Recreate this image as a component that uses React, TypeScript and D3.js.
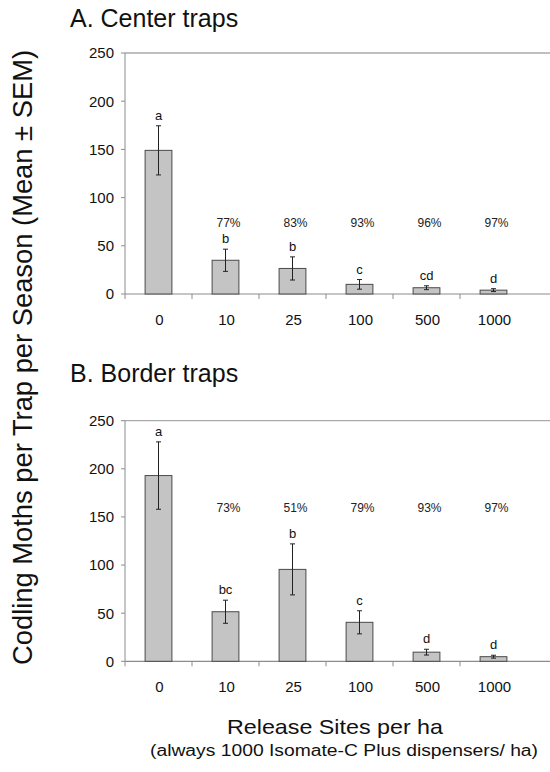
import React from "react";
import * as d3 from "d3";

const categories = ["0", "10", "25", "100", "500", "1000"];
const yTicks = [0, 50, 100, 150, 200, 250];

const centerMeans = [149, 35, 26.5, 10, 6.5, 4];
const centerSem = [25.5, 11.5, 12, 5, 2, 1.5];
const centerLetters = ["a", "b", "b", "c", "cd", "d"];
const centerPct = ["", "77%", "83%", "93%", "96%", "97%"];

const borderMeans = [193, 51.5, 95.5, 40.5, 9.5, 4.8];
const borderSem = [35, 12, 26.5, 12, 3, 1.5];
const borderLetters = ["a", "bc", "b", "c", "d", "d"];
const borderPct = ["", "73%", "51%", "79%", "93%", "97%"];

const FONT = "'Liberation Sans', Arial, Helvetica, sans-serif";

type PanelProps = {
  title: string;
  titleY: number;
  top: number;
  bottom: number;
  means: number[];
  sem: number[];
  letters: string[];
  pct: string[];
  pctLevel: number;
};

function Panel({ title, titleY, top, bottom, means, sem, letters, pct, pctLevel }: PanelProps) {
  const x = d3
    .scaleBand<string>()
    .domain(categories)
    .range([125, 527])
    .paddingInner(0.6)
    .paddingOuter(0.3);
  const y = d3.scaleLinear().domain([0, 250]).range([bottom, top]);
  const step = x.step();
  const left = 125;
  const right = 550;
  const axisColor = "#8c8c8c";
  return (
    <g>
      <text x={70} y={titleY} fontSize={25} fontFamily={FONT} fill="#111">
        {title}
      </text>
      <line x1={left} x2={right} y1={y(250)} y2={y(250)} stroke="#aaa" strokeWidth={1.3} />
      <line x1={left} x2={left} y1={y(0)} y2={y(250)} stroke={axisColor} strokeWidth={1} />
      {yTicks.map((t) => (
        <g key={t}>
          <line x1={left - 4} x2={left} y1={y(t)} y2={y(t)} stroke={axisColor} />
          <text
            x={114}
            y={y(t)}
            dy="0.36em"
            textAnchor="end"
            fontSize={15}
            fontFamily={FONT}
            fill="#111"
          >
            {t}
          </text>
        </g>
      ))}
      <line x1={left} x2={right} y1={y(0)} y2={y(0)} stroke={axisColor} strokeWidth={1.2} />
      {categories.map((c, i) => (
        <line
          key={"t" + c}
          x1={left + step * i}
          x2={left + step * i}
          y1={y(0)}
          y2={y(0) + 5}
          stroke={axisColor}
        />
      ))}
      {categories.map((c) => (
        <text
          key={"l" + c}
          x={(x(c) as number) + x.bandwidth() / 2 + 1}
          y={y(0) + 31}
          textAnchor="middle"
          fontSize={15}
          fontFamily={FONT}
          fill="#111"
        >
          {c}
        </text>
      ))}
      {categories.map((c, i) => {
        const bx = x(c) as number;
        const bw = x.bandwidth();
        const cx = bx + bw / 2;
        const hi = y(means[i] + sem[i]);
        const lo = y(means[i] - sem[i]);
        return (
          <g key={"b" + c}>
            <rect
              x={bx}
              y={y(means[i])}
              width={bw}
              height={y(0) - y(means[i])}
              fill="#c4c4c4"
              stroke="#4a4a4a"
              strokeWidth={1}
            />
            <line x1={cx} x2={cx} y1={hi} y2={lo} stroke="#222" strokeWidth={1} />
            <line x1={cx - 2.5} x2={cx + 2.5} y1={hi} y2={hi} stroke="#222" strokeWidth={1} />
            <line x1={cx - 2.5} x2={cx + 2.5} y1={lo} y2={lo} stroke="#222" strokeWidth={1} />
            <text
              x={cx}
              y={hi - 6}
              textAnchor="middle"
              fontSize={13}
              fontFamily={FONT}
              fill="#111"
            >
              {letters[i]}
            </text>
            {pct[i] && (
              <text
                x={cx + 3}
                y={y(pctLevel)}
                dy="0.36em"
                textAnchor="middle"
                fontSize={12}
                fontFamily={FONT}
                fill="#222"
              >
                {pct[i]}
              </text>
            )}
          </g>
        );
      })}
    </g>
  );
}

export default function App() {
  return (
    <svg
      width={550}
      height={772}
      style={{ position: "absolute", left: 0, top: 0, background: "#fff" }}
    >
      <rect x={0} y={0} width={550} height={772} fill="#fff" />
      <Panel
        title="A. Center traps"
        titleY={27}
        top={53}
        bottom={294}
        means={centerMeans}
        sem={centerSem}
        letters={centerLetters}
        pct={centerPct}
        pctLevel={74}
      />
      <Panel
        title="B. Border traps"
        titleY={382}
        top={420.7}
        bottom={661.3}
        means={borderMeans}
        sem={borderSem}
        letters={borderLetters}
        pct={borderPct}
        pctLevel={159.6}
      />
      <text
        transform="translate(32,357.5) rotate(-90)"
        textAnchor="middle"
        fontSize={27}
        fontFamily={FONT}
        fill="#111"
        textLength={615}
        lengthAdjust="spacingAndGlyphs"
      >
        Codling Moths per Trap per Season (Mean ± SEM)
      </text>
      <text
        x={335}
        y={734}
        textAnchor="middle"
        fontSize={21}
        fontFamily={FONT}
        fill="#111"
        textLength={216}
        lengthAdjust="spacingAndGlyphs"
      >
        Release Sites per ha
      </text>
      <text
        x={344}
        y={756}
        textAnchor="middle"
        fontSize={16}
        fontFamily={FONT}
        fill="#111"
        textLength={388}
        lengthAdjust="spacingAndGlyphs"
      >
        (always 1000 Isomate-C Plus dispensers/ ha)
      </text>
    </svg>
  );
}
